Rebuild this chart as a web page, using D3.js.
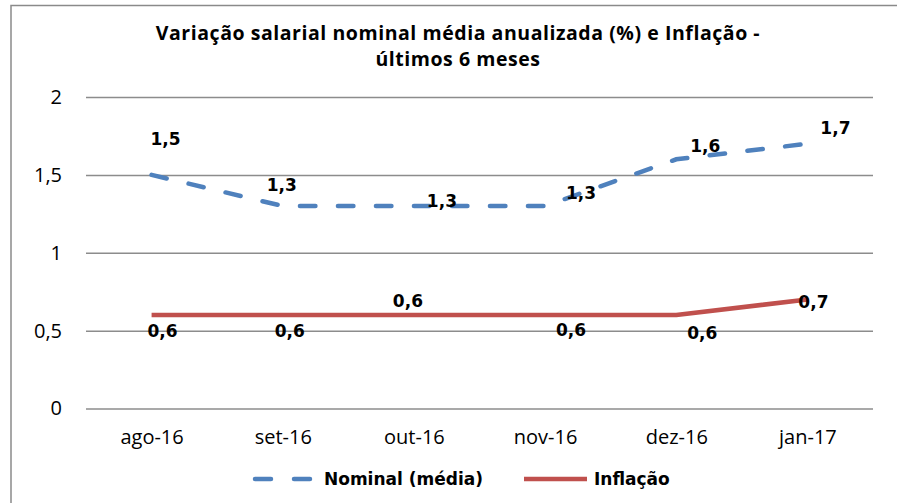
<!DOCTYPE html>
<html>
<head>
<meta charset="utf-8">
<script src="https://cdn.jsdelivr.net/npm/d3@7"></script>
<style>
  html, body { margin: 0; padding: 0; background: #fff; }
  svg { display: block; }
  .axis text { font-family: "Open Sans", Roboto, sans-serif; font-size: 20px; fill: #000; }
  .axis .domain { display: none; }
  .label { font-family: "DejaVu Sans", Verdana, sans-serif; font-weight: bold; font-size: 17px; fill: #000; }
</style>
</head>
<body>
<div id="chart"></div>
<script>
// data
const categories = ["ago-16", "set-16", "out-16", "nov-16", "dez-16", "jan-17"];
const nominal = [1.5, 1.3, 1.3, 1.3, 1.6, 1.7];
const inflacao = [0.6, 0.6, 0.6, 0.6, 0.6, 0.7];
const yTicks = [0, 0.5, 1, 1.5, 2];
const seriesNames = ["Nominal (média)", "Inflação"];
const titleLines = ["Variação salarial nominal média anualizada (%) e Inflação -", "últimos 6 meses"];

// where Excel put each data label, relative to its point
const nominalLabelOffset = [[14, -36], [-1, -21], [28, -5], [36, -13], [29, -13], [28, -16]];
const inflacaoLabelOffset = [[11, 16], [7, 16], [-6, -14], [26, 15], [26, 18], [6, 2]];

const width = 897, height = 503;
const blue = "#4f81bd", red = "#c0504d";

const pt = d3.formatLocale({decimal: ",", thousands: ".", grouping: [3], currency: ["R$", ""]});
const tickFmt = pt.format("~g");
const labelFmt = pt.format(".1f");

let svg = d3.select("#chart").append("svg")
	.attr("width", width)
	.attr("height", height);

svg.append("rect").attr("width", width).attr("height", height).attr("fill", "#fff");

// chart frame (runs off the right and bottom of the picture)
svg.append("rect")
	.attr("x", 11).attr("y", 5.5)
	.attr("width", 920).attr("height", 540)
	.attr("fill", "none")
	.attr("stroke", "#8a8a8a")
	.attr("stroke-width", 1.5);

// title
svg.append("g").selectAll("text")
	.data(titleLines)
	.enter().append("text")
	.attr("x", 458)
	.attr("y", (d, i) => 40 + i * 26)
	.attr("text-anchor", "middle")
	.style("font-family", "'Open Sans', Roboto, sans-serif")
	.style("font-weight", "bold")
	.style("font-size", "19.5px")
	.style("letter-spacing", "0.55px")
	.text(d => d);

let x = d3.scalePoint()
	.domain(categories)
	.range([86, 873])
	.padding(0.5);

let y = d3.scaleLinear()
	.domain([0, 2])
	.range([408.5, 97]);

// y axis with gridlines
let yAxis = svg.append("g")
	.attr("class", "axis")
	.attr("transform", "translate(86,0)")
	.call(d3.axisLeft(y).tickValues(yTicks).tickFormat(tickFmt).tickSize(-(873 - 86)).tickPadding(24));
yAxis.selectAll("line").attr("stroke", "#8c8c8c").attr("stroke-width", 1.5);

// x axis
let xAxis = svg.append("g")
	.attr("class", "axis")
	.attr("transform", "translate(0,408.5)")
	.call(d3.axisBottom(x).tickSize(0).tickPadding(21));
xAxis.selectAll("line").remove();

let line = d3.line()
	.x((d, i) => x(categories[i]))
	.y(d => y(d));

svg.append("path")
	.datum(inflacao)
	.attr("fill", "none")
	.attr("stroke", red)
	.attr("stroke-width", 4.5)
	.attr("stroke-linejoin", "round")
	.attr("d", line);

svg.append("path")
	.datum(nominal)
	.attr("fill", "none")
	.attr("stroke", blue)
	.attr("stroke-width", 4.5)
	.attr("stroke-linecap", "round")
	.attr("stroke-dasharray", "15.5,22.5")
	.attr("d", line);

// data labels
function addLabels(values, offsets) {
	svg.append("g").selectAll("text")
		.data(values)
		.enter().append("text")
		.attr("class", "label")
		.attr("x", (d, i) => x(categories[i]) + offsets[i][0])
		.attr("y", (d, i) => y(d) + offsets[i][1])
		.attr("dy", "0.36em")
		.attr("text-anchor", "middle")
		.text(d => labelFmt(d));
}
addLabels(nominal, nominalLabelOffset);
addLabels(inflacao, inflacaoLabelOffset);

// legend
let legend = svg.append("g").attr("transform", "translate(0,479)");
legend.append("line")
	.attr("x1", 255).attr("x2", 312).attr("y1", 0).attr("y2", 0)
	.attr("stroke", blue).attr("stroke-width", 4.5)
	.attr("stroke-linecap", "round")
	.attr("stroke-dasharray", "16,23");
legend.append("text")
	.attr("class", "label")
	.attr("x", 324).attr("dy", "0.36em")
	.text(seriesNames[0]);
legend.append("line")
	.attr("x1", 524).attr("x2", 587).attr("y1", 0).attr("y2", 0)
	.attr("stroke", red).attr("stroke-width", 4.5);
legend.append("text")
	.attr("class", "label")
	.attr("x", 594).attr("dy", "0.36em")
	.text(seriesNames[1]);
</script>
</body>
</html>
